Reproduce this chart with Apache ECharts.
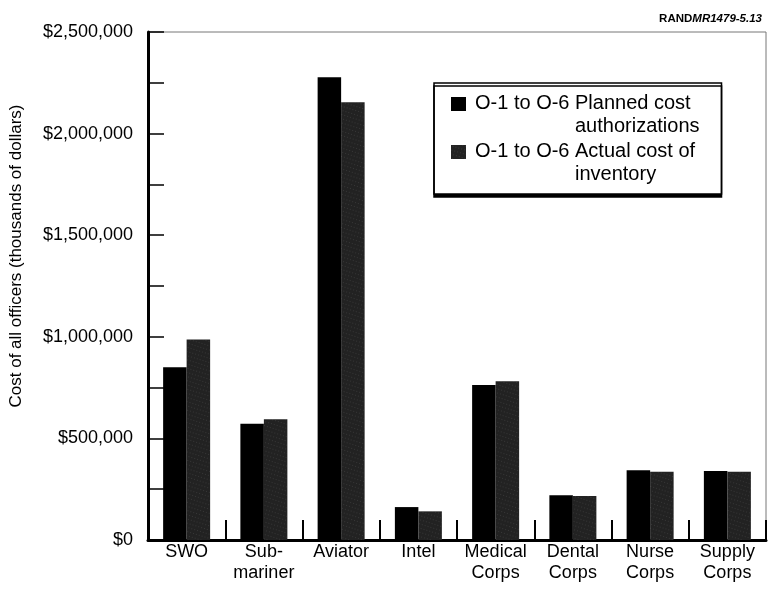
<!DOCTYPE html>
<html>
<head>
<meta charset="utf-8">
<script src="https://cdn.jsdelivr.net/npm/echarts@6/dist/echarts.min.js"></script>
<style>html,body{margin:0;padding:0;background:#fff}#c{width:768px;height:590px}</style>
</head>
<body>
<div id="c"></div>
<script>
// ---- data ----
var categories = ['SWO', 'Sub-\nmariner', 'Aviator', 'Intel', 'Medical\nCorps', 'Dental\nCorps', 'Nurse\nCorps', 'Supply\nCorps'];
var plannedCost = [850000, 572000, 2277000, 162000, 763000, 220000, 343000, 340000];
var actualCost = [987000, 594000, 2154000, 141000, 781000, 217000, 336000, 336000];
var seriesNames = ['O-1 to O-6 Planned cost authorizations', 'O-1 to O-6 Actual cost of inventory'];
var legendPrefix = 'O-1 to O-6';
var legendLines = [['Planned cost', 'authorizations'], ['Actual cost of', 'inventory']];
var yTicks = [0, 500000, 1000000, 1500000, 2000000, 2500000];
var yAxisTitle = 'Cost of all officers (thousands of dollars)';

var FONT = '"Liberation Sans", Arial, Helvetica, sans-serif';
var chart = echarts.init(document.getElementById('c'), null, {renderer: 'canvas'});

function fmtMoney(v) {
  return '$' + Math.round(v).toString().replace(/\B(?=(\d{3})+(?!\d))/g, ',');
}

var iconPath = 'path://M0,0h0.01v0.01h-0.01z M0,4h15v14h-15z M0,43.99h0.01v0.01h-0.01z';

var option = {
  backgroundColor: '#fff',
  animation: false,
  title: {
    text: '{b|RAND}{i|MR1479-5.13}',
    right: 1, top: 8,
    textStyle: {
      rich: {
        b: {fontFamily: FONT, fontSize: 11.5, fontWeight: 'bold', color: '#000'},
        i: {fontFamily: FONT, fontSize: 11.5, fontStyle: 'italic', color: '#000'}
      }
    }
  },
  grid: {
    left: 148, right: 2, top: 32, bottom: 50,
    show: true, borderColor: '#777', borderWidth: 1, backgroundColor: 'transparent'
  },
  legend: {
    orient: 'vertical',
    left: 434, top: 83,
    padding: [10, 22, 9, 17],
    itemGap: 4,
    itemWidth: 15, itemHeight: 44,
    symbolKeepAspect: true,
    backgroundColor: '#fff',
    borderColor: '#000', borderWidth: 1.5,
    shadowColor: '#000', shadowBlur: 0, shadowOffsetX: 0, shadowOffsetY: 3,
    data: [
      {name: seriesNames[0], icon: iconPath},
      {name: seriesNames[1], icon: iconPath}
    ],
    formatter: function (name) {
      var idx = seriesNames.indexOf(name);
      var l = legendLines[idx];
      return '{a|' + legendPrefix + '}{b|' + l[0] + '}\n{a| }{b|' + l[1] + '}';
    },
    textStyle: {
      rich: {
        a: {width: 100, padding: [0, 0, 0, 4], fontFamily: FONT, fontSize: 20, lineHeight: 23, color: '#000'},
        b: {fontFamily: FONT, fontSize: 20, lineHeight: 23, color: '#000'}
      }
    }
  },
  xAxis: {
    type: 'category',
    data: categories,
    axisLine: {lineStyle: {color: '#000', width: 3}},
    axisTick: {show: true, inside: true, alignWithLabel: false, interval: 0, length: 20, lineStyle: {color: '#000', width: 2}},
    axisLabel: {fontFamily: FONT, fontSize: 18, lineHeight: 21, color: '#000', margin: 2, interval: 0}
  },
  yAxis: {
    type: 'value',
    min: 0, max: 2500000, interval: 250000,
    name: yAxisTitle,
    nameLocation: 'middle',
    nameGap: 123,
    nameRotate: 90,
    nameTextStyle: {fontFamily: FONT, fontSize: 17, color: '#000', padding: [0, 0, 0, 60]},
    axisLine: {show: true, lineStyle: {color: '#000', width: 3}},
    axisTick: {show: true, inside: true, length: 16, lineStyle: {color: '#000', width: 1.5}},
    splitLine: {show: false},
    axisLabel: {
      fontFamily: FONT, fontSize: 18, color: '#000', margin: 15,
      formatter: function (v) { return yTicks.indexOf(v) >= 0 ? fmtMoney(v) : ''; }
    }
  },
  series: [
    {
      name: seriesNames[0], type: 'bar', data: plannedCost,
      barWidth: 23.5, barGap: '0%',
      itemStyle: {color: '#000'}
    },
    {
      name: seriesNames[1], type: 'bar', data: actualCost,
      barWidth: 23.5, barGap: '0%',
      itemStyle: {
        color: '#222',
        decal: {symbol: 'rect', symbolSize: 0.6, color: 'rgba(190,190,190,0.45)', dashArrayX: [1, 2], dashArrayY: [1, 3], rotation: 0.3}
      }
    }
  ]
};
chart.setOption(option);
</script>
</body>
</html>
